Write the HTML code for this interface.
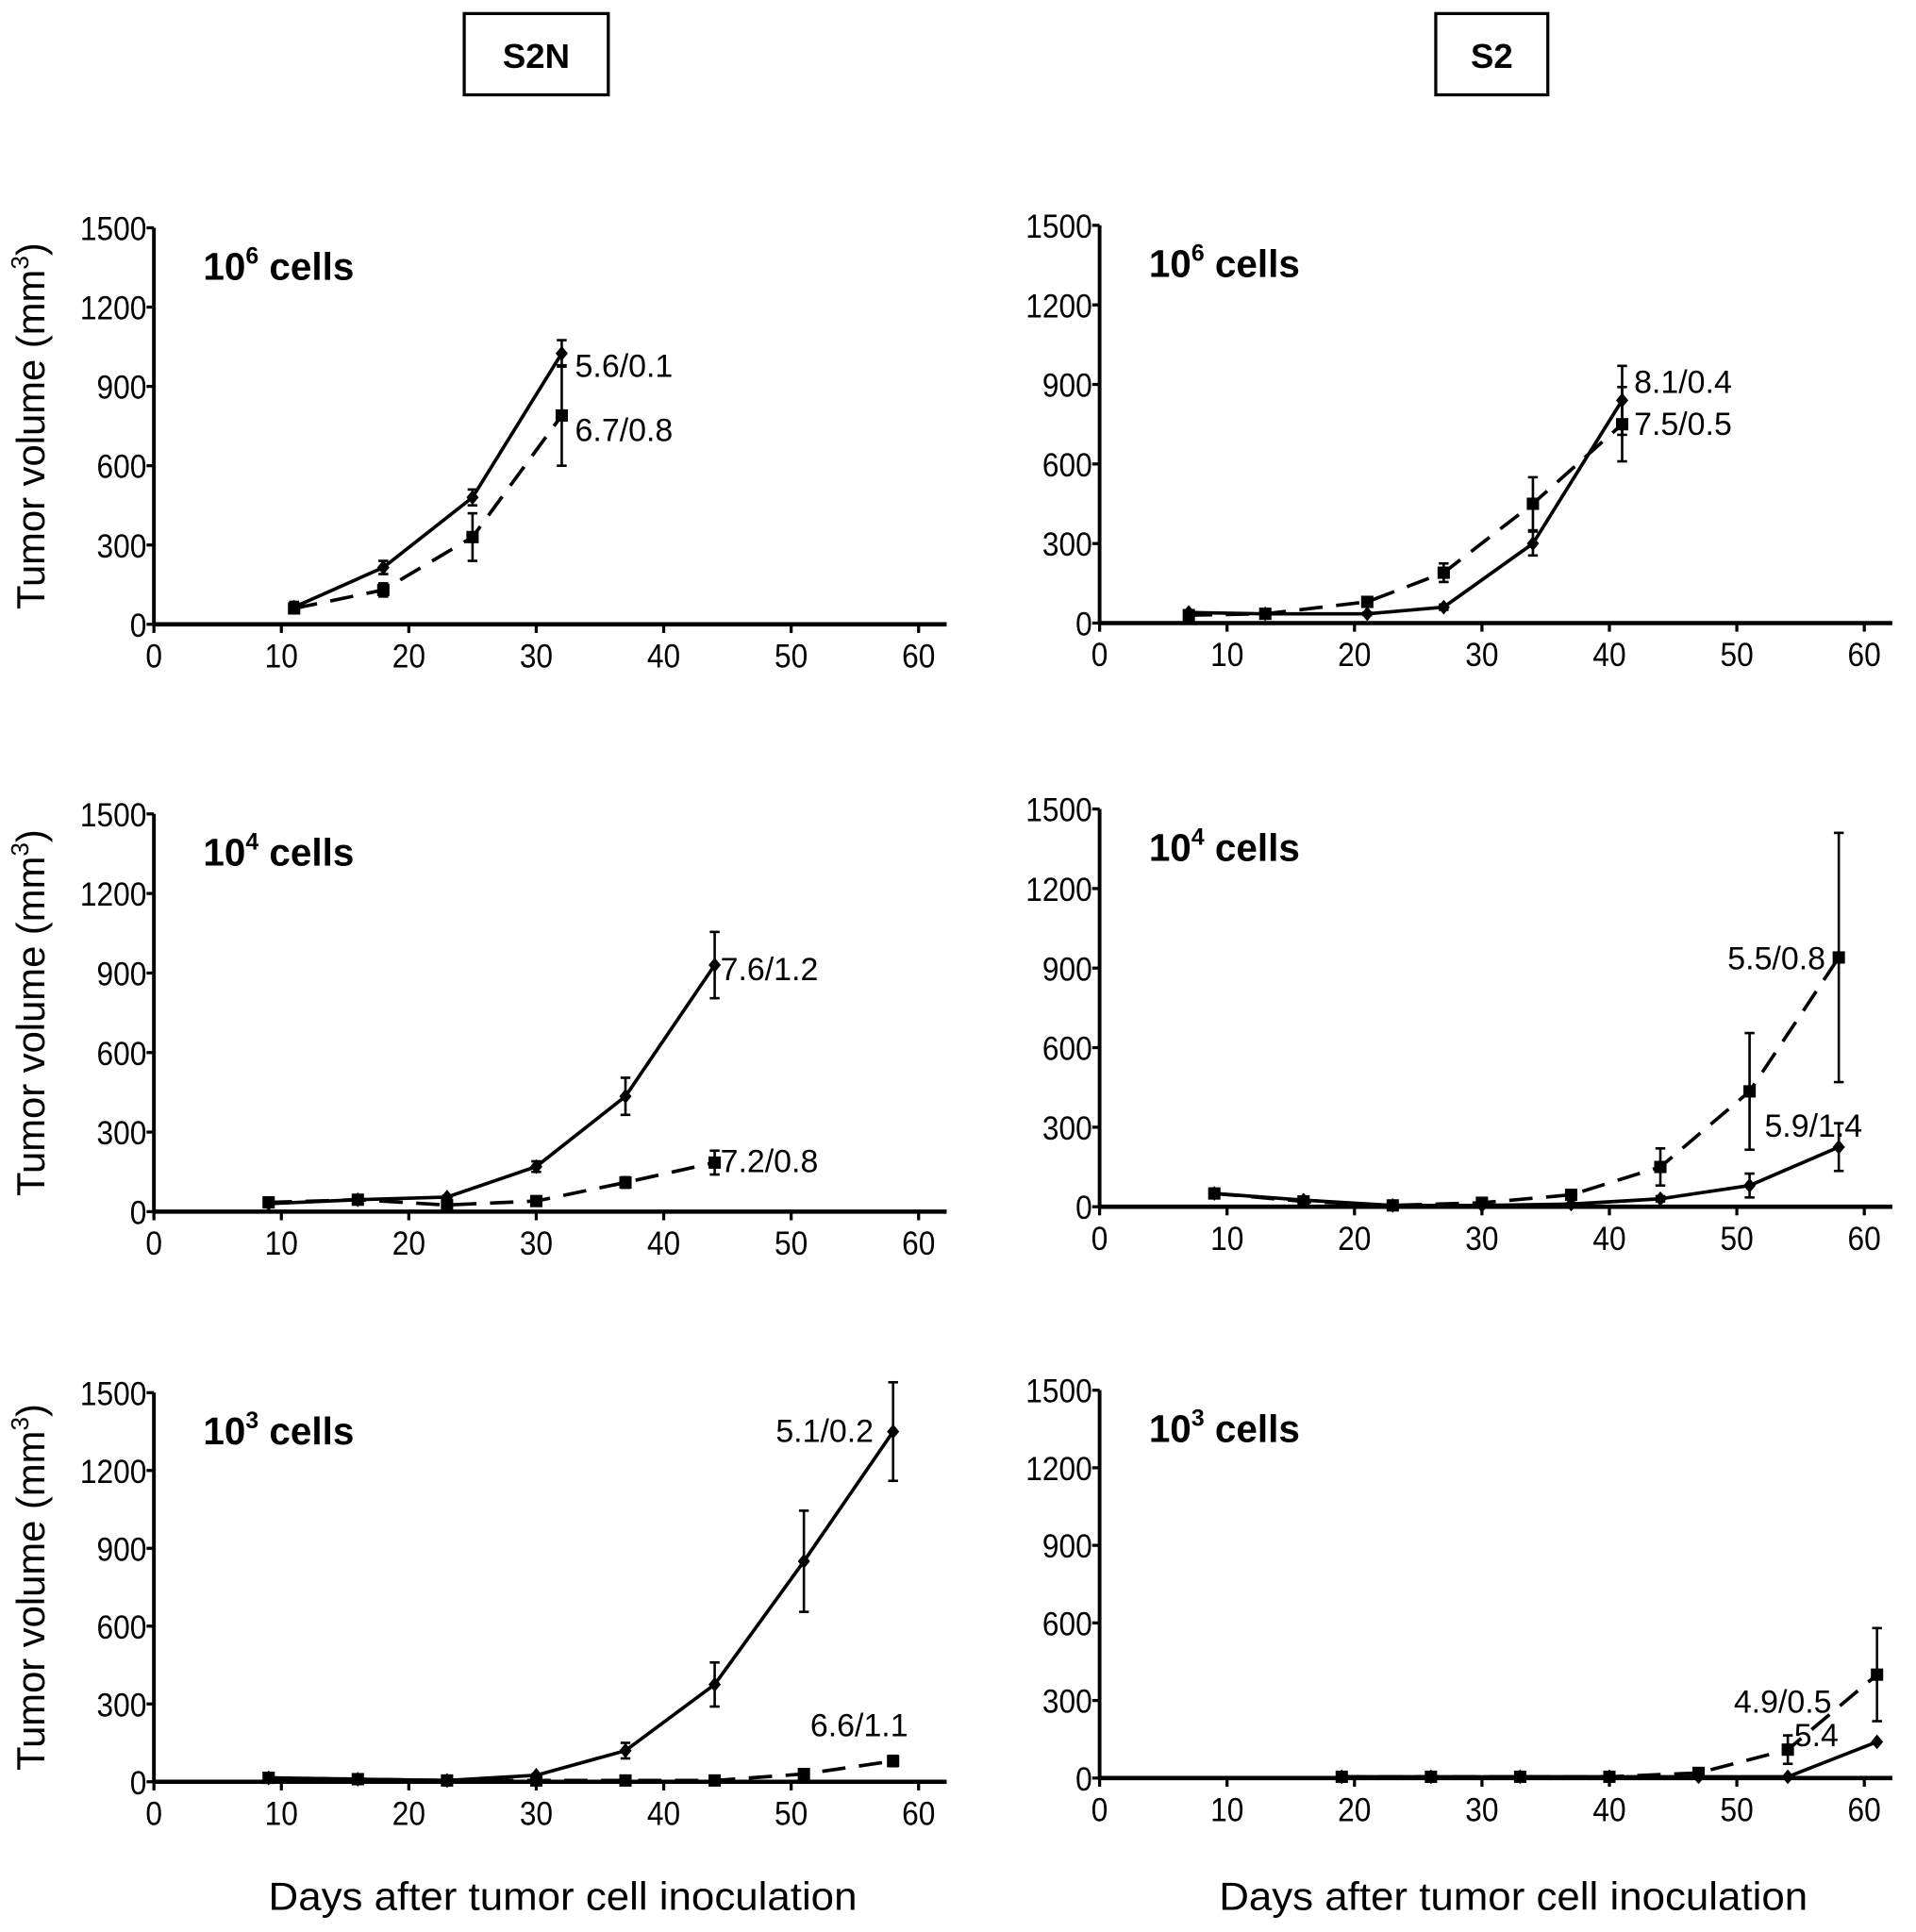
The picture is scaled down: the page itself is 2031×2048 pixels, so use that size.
<!DOCTYPE html>
<html><head><meta charset="utf-8"><style>
html,body{margin:0;padding:0;background:#fff}
svg{display:block}
text{font-family:"Liberation Sans",sans-serif;fill:#000}
</style></head><body>
<svg id="fig" width="2031" height="2048" viewBox="0 0 1556 1569" xmlns="http://www.w3.org/2000/svg">
<g><rect x="377" y="11" width="117" height="66" fill="none" stroke="#000" stroke-width="2.5"/><text x="435.5" y="55" text-anchor="middle" font-size="28" font-weight="bold">S2N</text></g>
<g><rect x="1166" y="11" width="91" height="66" fill="none" stroke="#000" stroke-width="2.5"/><text x="1211.5" y="55" text-anchor="middle" font-size="28" font-weight="bold">S2</text></g>
<text x="457" y="1551" text-anchor="middle" font-size="32" textLength="478" lengthAdjust="spacingAndGlyphs">Days after tumor cell inoculation</text>
<text x="1229" y="1551" text-anchor="middle" font-size="32" textLength="478" lengthAdjust="spacingAndGlyphs">Days after tumor cell inoculation</text>
</svg>
<script>
// Panel 1: S2N 10^6
const p1Days=[11,18,25,32];
const p1Solid=[65,215,480,1025];const p1SolidErr=[20,25,30,50];
const p1Dash=[60,130,330,790];const p1DashErr=[10,25,90,190];
// Panel 2: S2 10^6
const p2Days=[7,13,21,27,34,41];
const p2Solid=[40,35,35,60,300,840];const p2SolidErr=[5,5,5,10,45,130];
const p2Dash=[30,35,80,190,450,750];const p2DashErr=[5,5,10,35,100,140];
// Panel 3: S2N 10^4
const p3Days=[9,16,23,30,37,44];
const p3Solid=[30,45,55,170,435,930];const p3SolidErr=[5,5,5,20,70,125];
const p3Dash=[35,45,25,40,110,185];const p3DashErr=[5,5,5,5,20,45];
// Panel 4: S2 10^4
const p4Days=[9,16,23,30,37,44,51,58];
const p4Solid=[50,25,5,5,10,30,80,225];const p4SolidErr=[10,5,3,3,3,10,45,90];
const p4Dash=[50,20,5,15,45,150,435,940];const p4DashErr=[10,5,3,5,10,70,220,470];
// Panel 5: S2N 10^3
const p5Days=[9,16,23,30,37,44,51,58];
const p5Solid=[15,10,5,25,120,375,850,1350];const p5SolidErr=[5,5,3,5,30,85,195,190];
const p5Dash=[15,10,5,5,5,5,30,80];const p5DashErr=[3,3,3,3,3,3,5,20];
// Panel 6: S2 10^3
const p6Days=[19,26,33,40,47,54,61];
const p6Solid=[5,5,5,5,5,5,140];const p6SolidErr=[0,0,0,0,0,0,0];
const p6Dash=[5,5,5,5,20,110,400];const p6DashErr=[0,0,0,0,5,55,180];
const yTicks=[0,300,600,900,1200,1500];
const xTicks=[0,10,20,30,40,50,60];

const NS="http://www.w3.org/2000/svg";
const svg=document.getElementById('fig');
function el(tag,attrs,parent){const e=document.createElementNS(NS,tag);for(const k in attrs)e.setAttribute(k,attrs[k]);(parent||svg).appendChild(e);return e;}

const panels=[
 {n:'s2n-1e6',x0:125,y0:507,yTop:185,exp:'6',days:p1Days,s:p1Solid,se:p1SolidErr,d:p1Dash,de:p1DashErr,ann:[['5.6/0.1',467,305],['6.7/0.8',467,357]],title:true},
 {n:'s2-1e6',x0:893,y0:506,yTop:183,exp:'6',days:p2Days,s:p2Solid,se:p2SolidErr,d:p2Dash,de:p2DashErr,ann:[['8.1/0.4',1327,318],['7.5/0.5',1327,352]],title:false},
 {n:'s2n-1e4',x0:125,y0:984,yTop:661,exp:'4',days:p3Days,s:p3Solid,se:p3SolidErr,d:p3Dash,de:p3DashErr,ann:[['7.6/1.2',585,795],['7.2/0.8',585,951]],title:true},
 {n:'s2-1e4',x0:893,y0:980,yTop:657,exp:'4',days:p4Days,s:p4Solid,se:p4SolidErr,d:p4Dash,de:p4DashErr,ann:[['5.5/0.8',1403,786],['5.9/1.4',1433,922]],title:false},
 {n:'s2n-1e3',x0:125,y0:1447,yTop:1131,exp:'3',days:p5Days,s:p5Solid,se:p5SolidErr,d:p5Dash,de:p5DashErr,ann:[['5.1/0.2',630,1170],['6.6/1.1',658,1409]],title:true},
 {n:'s2-1e3',x0:893,y0:1444,yTop:1129,exp:'3',days:p6Days,s:p6Solid,se:p6SolidErr,d:p6Dash,de:p6DashErr,ann:[['4.9/0.5',1408,1390],['5.4',1457,1417]],title:false}
];
const xUnit=621/60;
panels.forEach(p=>{
 const g=el('g',{});
 
 
 const X=v=>p.x0+v*xUnit;
 const Y=v=>p.y0-(v/1500)*(p.y0-p.yTop);
 const ya=el('line',{x1:p.x0,y1:p.yTop,x2:p.x0,y2:p.y0,stroke:'#000','stroke-width':3},g);
 
 
 const xa=el('line',{x1:p.x0,y1:p.y0,x2:X(62.2),y2:p.y0,stroke:'#000','stroke-width':3.5},g);
 
 
 yTicks.forEach(t=>{
  el('line',{x1:p.x0-6,y1:Y(t),x2:p.x0,y2:Y(t),stroke:'#000','stroke-width':2.5},g);
  const tx=el('text',{x:p.x0-6,y:Y(t)+10,'text-anchor':'end','font-size':27,'textLength':String(t).length*13.5,'lengthAdjust':'spacingAndGlyphs'},g);
  tx.textContent=t;
  
  
 });
 xTicks.forEach(t=>{
  el('line',{x1:X(t),y1:p.y0,x2:X(t),y2:p.y0+7,stroke:'#000','stroke-width':2.5},g);
  const tx=el('text',{x:X(t),y:p.y0+35,'text-anchor':'middle','font-size':27,'textLength':String(t).length*13.5,'lengthAdjust':'spacingAndGlyphs'},g);
  tx.textContent=t;
  
  
 });
 const lab=el('text',{x:p.x0+40,y:p.yTop+42,'font-size':31,'font-weight':'bold'},g);
 lab.innerHTML='10<tspan font-size="19" dy="-13">'+p.exp+'</tspan><tspan dy="13"> cells</tspan>';
 
 
 if(p.title){
  const cy=(p.y0+p.yTop)/2;
  const yt=el('text',{x:0,y:0,'text-anchor':'middle','font-size':32,transform:`translate(36,${cy}) rotate(-90)`},g);
  yt.innerHTML='Tumor volume (mm<tspan font-size="20" dy="-13">3</tspan><tspan dy="13">)</tspan>';
  
  
 }
 function series(vals,errs,dashed,name){
  const sg=el('g',{},g);
  
  
  const pts=p.days.map((d,i)=>X(d)+','+Y(vals[i])).join(' ');
  const attrs={points:pts,fill:'none',stroke:'#000','stroke-width':2.8};
  if(dashed)attrs['stroke-dasharray']='19 11';
  el('polyline',attrs,sg);
  p.days.forEach((d,i)=>{
   const x=X(d),y=Y(vals[i]),e=errs[i];
   if(e>0){
    el('line',{x1:x,y1:Y(vals[i]+e),x2:x,y2:Y(Math.max(0,vals[i]-e)),stroke:'#000','stroke-width':2},sg);
    el('line',{x1:x-4,y1:Y(vals[i]+e),x2:x+4,y2:Y(vals[i]+e),stroke:'#000','stroke-width':2},sg);
    el('line',{x1:x-4,y1:Y(Math.max(0,vals[i]-e)),x2:x+4,y2:Y(Math.max(0,vals[i]-e)),stroke:'#000','stroke-width':2},sg);
   }
   let m;
   if(dashed)m=el('rect',{x:x-5,y:y-5,width:10,height:10,fill:'#000'},sg);
   else m=el('polygon',{points:`${x},${y-6} ${x+5},${y} ${x},${y+6} ${x-5},${y}`,fill:'#000'},sg);
   
   
  });
 }
 series(p.s,p.se,false,'series-solid');
 series(p.d,p.de,true,'series-dashed');
 p.ann.forEach(a=>{
  const t=el('text',{x:a[1],y:a[2]+1,'font-size':26},g);
  t.textContent=a[0];
  
  
 });
});
</script>
</body></html>
